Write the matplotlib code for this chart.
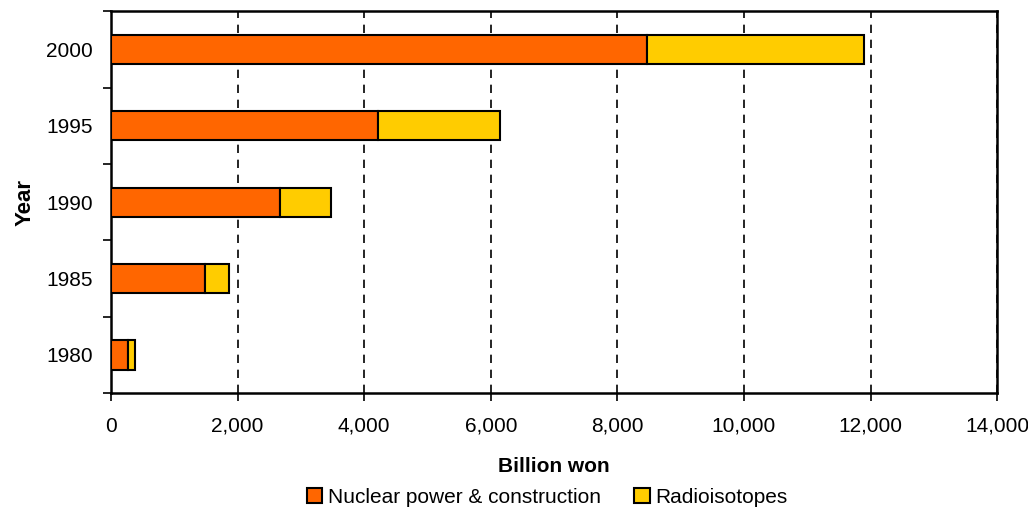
import matplotlib
matplotlib.use("Agg")
import matplotlib.pyplot as plt
from matplotlib.ticker import FuncFormatter, FixedLocator

plt.rcParams["font.family"] = ["Liberation Sans", "DejaVu Sans"]

years = ["1980", "1985", "1990", "1995", "2000"]
nuclear = [265, 1480, 2670, 4220, 8460]
radioisotopes = [110, 380, 810, 1920, 3440]

ORANGE = "#FF6600"
YELLOW = "#FFCC00"

fig = plt.figure(figsize=(10.28, 5.08), dpi=100)
ax = fig.add_axes([0.108, 0.226, 0.862, 0.752])

pos = list(range(len(years)))
ax.barh(pos, nuclear, height=0.38, color=ORANGE, edgecolor="black",
        linewidth=1.5, label="Nuclear power & construction", zorder=3)
ax.barh(pos, radioisotopes, left=nuclear, height=0.38, color=YELLOW,
        edgecolor="black", linewidth=1.5, label="Radioisotopes", zorder=3)

ax.set_xlim(0, 14000)
ax.set_ylim(-0.5, len(years) - 0.5)
ax.set_xticks(range(0, 14001, 2000))
ax.xaxis.set_major_formatter(FuncFormatter(lambda v, p: f"{int(v):,}"))
ax.tick_params(axis="x", labelsize=15, length=6, width=1.2, pad=11, direction="out")

# category ticks sit between the bars, labels sit on the bars
ax.yaxis.set_major_locator(FixedLocator([p - 0.5 for p in pos] + [pos[-1] + 0.5]))
ax.yaxis.set_minor_locator(FixedLocator(pos))
ax.set_yticklabels([], minor=False)
ax.set_yticklabels(years, minor=True)
ax.tick_params(axis="y", which="major", length=6, width=1.2)
ax.tick_params(axis="y", which="minor", length=0, labelsize=15, pad=13)

ax.grid(axis="x", color="black", linestyle=(0, (5, 4)), linewidth=1.2, zorder=0)
for s in ax.spines.values():
    s.set_linewidth(1.8)

ax.set_xlabel("Billion won", fontsize=15, fontweight="bold", labelpad=15)
ax.set_ylabel("Year", fontsize=16, fontweight="bold", labelpad=8)

fig.legend(loc="lower center", bbox_to_anchor=(0.532, -0.035), ncol=2,
           frameon=False, fontsize=15, handlelength=0.75, handleheight=0.75,
           handletextpad=0.25, columnspacing=1.6)

fig.savefig("out.png", dpi=100)
